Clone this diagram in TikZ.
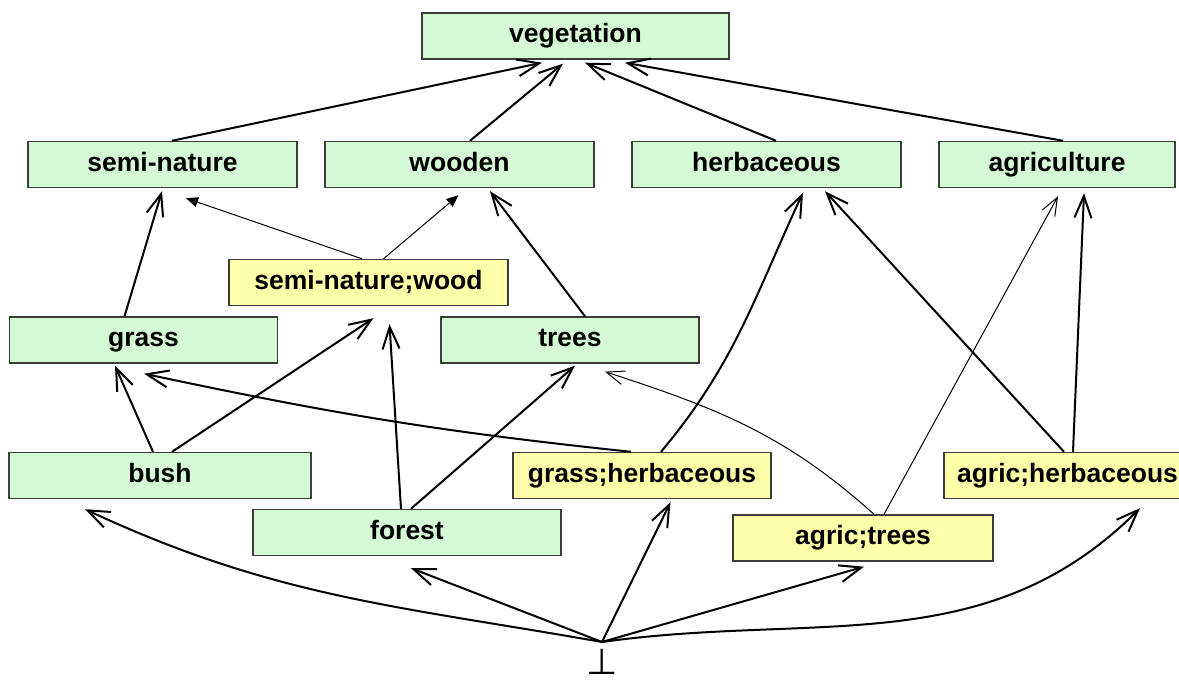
\documentclass[tikz,border=0pt]{standalone}
\usepackage{fontspec}
\setmainfont{Liberation Sans}
\newfontfamily\symfont{DejaVu Sans}
\usetikzlibrary{arrows.meta,calc}
\definecolor{conceptgreen}{RGB}{213,248,213}
\definecolor{mixyellow}{RGB}{255,255,170}
\definecolor{boxline}{RGB}{60,60,60}

\begin{document}
\begin{tikzpicture}[x=0.5pt,y=0.5pt,
  box/.style={draw=boxline,line width=0.7pt,minimum height=23pt,inner sep=0pt,
    text height=9.5pt,text depth=2.5pt,font=\fontsize{13.25}{15}\selectfont\bfseries},
  concept/.style={box,fill=conceptgreen},
  mixed/.style={box,fill=mixyellow},
  link/.style={line width=1pt,-{Straight Barb[length=11pt,width=8.5pt]}},
  weak/.style={line width=0.5pt,-{Straight Barb[length=9pt,width=7pt]}},
  weakfill/.style={line width=0.5pt,-{Triangle[length=6pt,width=5pt]}}]
\useasboundingbox (0,0) rectangle (1179,-683);
\clip (0,0) rectangle (1179,-683);

\node[concept,minimum width=153.5pt] (veg)    at (575.5,-36)   {vegetation};
\node[concept,minimum width=134.5pt] (semi)   at (162.5,-164.5) {semi-nature};
\node[concept,minimum width=134.5pt] (wood)   at (459.5,-164.5) {wooden};
\node[concept,minimum width=134.5pt] (herb)   at (766.5,-164.5) {herbaceous};
\node[concept,minimum width=118pt]   (agri)   at (1057,-164.5)  {agriculture};
\node[mixed,minimum width=139.5pt]   (snw)    at (368.5,-282.5) {semi-nature;wood};
\node[concept,minimum width=134pt]   (grass)  at (143.5,-340)   {grass};
\node[concept,minimum width=129pt]   (trees)  at (570,-340)     {trees};
\node[concept,minimum width=151pt]   (bush)   at (160,-475.5)   {bush};
\node[mixed,minimum width=129pt]     (gh)     at (642,-475.5)   {grass;herbaceous};
\node[mixed,minimum width=123.5pt]   (ah)     at (1067.5,-475.5) {agric;herbaceous};
\node[concept,minimum width=154pt]   (forest) at (407,-532.5)   {forest};
\node[mixed,minimum width=130pt]     (at)     at (863,-538)     {agric;trees};
\node[inner sep=0pt,font=\symfont\fontsize{18}{18}\selectfont] (bot) at (602,-662) {⊥};

\draw[link] ($(semi.north)+(9.5,0)$) -- ($(veg.south)+(-33.5,-3)$);
\draw[link] ($(wood.north)+(10.5,0)$) -- ($(veg.south)+(-12.5,-4)$);
\draw[link] ($(herb.north)+(9.5,0)$) -- ($(veg.south)+(9.5,-3)$);
\draw[link] ($(agri.north)+(6,0)$) -- ($(veg.south)+(49.5,-3)$);

\draw[link] ($(grass.north)+(-19,0)$) -- ($(semi.south)+(-0.5,-3)$);
\draw[weakfill] ($(snw.north)+(-6.5,0)$) -- ($(semi.south)+(23.5,-10)$);
\draw[weakfill] ($(snw.north)+(15,0)$) -- ($(wood.south)+(-1,-7)$);
\draw[link] ($(trees.north)+(15,0)$) -- ($(wood.south)+(30.5,-3)$);
\draw[link] ($(gh.north)+(19,0)$) to[out=50,in=245] ($(herb.south)+(36.5,-4.5)$);
\draw[link] ($(ah.north)+(-3.5,0)$) -- ($(herb.south)+(58.5,-3)$);
\draw[weak] ($(at.north)+(21,0)$) -- ($(agri.south)+(1,-8)$);
\draw[link] ($(ah.north)+(5.5,0)$) -- ($(agri.south)+(27,-5)$);

\draw[link] ($(bush.north)+(-7,0)$) -- ($(grass.south)+(-28.5,-2)$);
\draw[link] ($(bush.north)+(12,0)$) -- ($(snw.south)+(5,-12)$);
\draw[link] ($(gh.north)+(-11,0)$) to[out=174,in=-12] ($(grass.south)+(0.5,-10)$);
\draw[link] ($(forest.north)+(-6,0)$) -- ($(snw.south)+(21,-18)$);
\draw[link] ($(forest.north)+(4,0)$) -- ($(trees.south)+(5,-2)$);
\draw[weak] ($(at.north)+(11,0)$) to[out=138,in=-18] ($(trees.south)+(35,-8)$);

\draw[link] ($(bot)+(0,20)$) to[out=170,in=-25] ($(bush.south)+(-75,-10)$);
\draw[link] ($(bot)+(0,20)$) -- ($(forest.south)+(4,-12)$);
\draw[link] ($(bot)+(0,20)$) -- ($(gh.south)+(28.5,-3)$);
\draw[link] ($(bot)+(0,20)$) -- ($(at.south)+(1,-5)$);
\draw[link] ($(bot)+(0,20)$) to[out=8,in=225] ($(ah.south)+(72.5,-9)$);
\end{tikzpicture}
\end{document}
